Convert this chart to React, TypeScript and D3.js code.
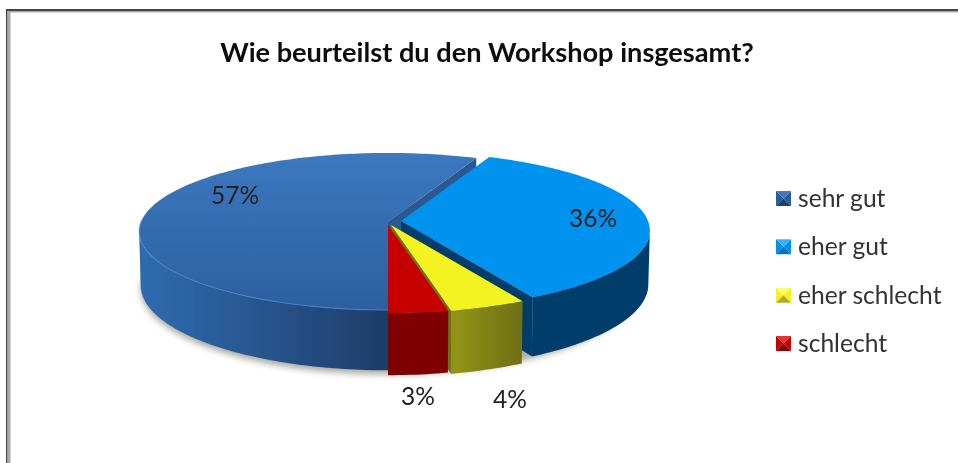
import React from "react";
import * as d3 from "d3";

const categories = ["sehr gut", "eher gut", "eher schlecht", "schlecht"];
const shares = [56.5, 35.6, 4.45, 3.45];
const percentLabels = ["57%", "36%", "4%", "3%"];
const title = "Wie beurteilst du den Workshop insgesamt?";

const W = 958, H = 463;
const FONT = "Lato, 'Open Sans', sans-serif";
const cx = 388, cy = 222, rx = 247, ry = 77.4, k = 0.121, depth = 53;
const offsets = [[0, 0], [13, -1], [3, 3], [0, 3]];
const depthScale = [1, 1, 1.05, 1.03];
const labelPos = [[235, 204], [593, 227], [510, 408], [418, 405]];
const topFill = ["url(#top0)", "#0092ef", "#f3f322", "#c60000"];
const sideFill = ["url(#side0)", "#003e6b", "url(#side2)", "#7e0000"];
const wallFill = ["#2b5890", "#003e6b", "#6f7012", "#7e0000"];
const legendColors = [
  ["#4478b8", "#2c5d9c", "#2c5d9c", "#1b3f70"],
  ["#35b4f5", "#0090ea", "#0090ea", "#0c70b8"],
  ["#fbfb70", "#f3f322", "#f3f322", "#b0b018"],
  ["#e83030", "#c60000", "#c60000", "#880000"],
];

// perspective projection of a point on the disc: angle a (0 = back, clockwise), radial r, height z
function project(a: number, r: number, z: number, off: number[]): [number, number] {
  const X = Math.sin(a) * r;
  const Y = -Math.cos(a) * r;
  const s = 1 / (1 - k * Y);
  const shrink = 1 - 0.006 * z;
  return [cx + off[0] + rx * X * s * shrink, cy + off[1] + ry * Y * s + depth * z * s];
}

const line = d3.line<[number, number]>();
const pieGen = d3.pie<number>().sort(null).startAngle(Math.PI).endAngle(3 * Math.PI);
const arcs = pieGen(shares);

function angles(a0: number, a1: number) {
  const n = Math.max(2, Math.ceil(Math.abs(a1 - a0) / 0.02));
  return d3.range(n + 1).map((i) => a0 + ((a1 - a0) * i) / n);
}
function arcPts(a0: number, a1: number, z: number, off: number[]) {
  return angles(a0, a1).map((a) => project(a, 1, z, off));
}

export default function App() {
  const legendY = d3.scalePoint<string>().domain(categories).range([199, 344]);
  const shadowPts = arcPts(0, 2 * Math.PI, 1.02, [0, 3]);
  return (
    <svg width={W} height={H} viewBox={`0 0 ${W} ${H}`} style={{ position: "absolute", left: 0, top: 0, background: "#fff" }}>
      <defs>
        <linearGradient id="top0" gradientUnits="userSpaceOnUse" x1="0" y1="153" x2="0" y2="312">
          <stop offset="0" stopColor="#3c78c0" />
          <stop offset="1" stopColor="#2d5f9f" />
        </linearGradient>
        <linearGradient id="side0" gradientUnits="userSpaceOnUse" x1="140" y1="0" x2="388" y2="0">
          <stop offset="0" stopColor="#2f6bb0" />
          <stop offset="0.5" stopColor="#28558e" />
          <stop offset="1" stopColor="#1e3c68" />
        </linearGradient>
        <linearGradient id="side2" gradientUnits="userSpaceOnUse" x1="455" y1="0" x2="523" y2="0">
          <stop offset="0" stopColor="#929318" />
          <stop offset="1" stopColor="#6e6f12" />
        </linearGradient>
        <filter id="blur" x="-10%" y="-10%" width="120%" height="120%"><feGaussianBlur stdDeviation="3" /></filter>
        <filter id="soft" x="-5%" y="-20%" width="110%" height="140%"><feGaussianBlur stdDeviation="0.45" /></filter>
        <filter id="softer" x="-5%" y="-5%" width="110%" height="110%"><feGaussianBlur stdDeviation="0.5" /></filter>
      </defs>

      <path d={line(shadowPts)! + "Z"} fill="#8a8a80" filter="url(#blur)" opacity={0.7} />

      <g filter="url(#softer)">
      {arcs.map((d, i) => {
        const off = offsets[i];
        const z = depthScale[i];
        const a0 = d.startAngle, a1 = d.endAngle;
        const top = arcPts(a0, a1, 0, off);
        const bottom = arcPts(a0, a1, z, off);
        const apexT = project(0, 0, 0, off);
        const apexB = project(0, 0, z, off);
        const wall = [apexT, top[top.length - 1], bottom[bottom.length - 1], apexB] as [number, number][];
        // only the front part of the rim, up to the silhouette, shows as an outer side
        const front = angles(a0, a1).filter((a) => -Math.cos(a) > k);
        const side = [
          ...front.map((a) => project(a, 1, 0, off)),
          ...front.slice().reverse().map((a) => project(a, 1, z, off)),
        ];
        return (
          <g key={categories[i]}>
            <path d={line(side)! + "Z"} fill={sideFill[i]} />
            <path d={line(wall)! + "Z"} fill={wallFill[i]} />
            <path d={line([apexT, ...top])! + "Z"} fill={topFill[i]} />
            {i === 0 && (
              <path d={line(arcPts(a0, a0 + 1.6, 0, off))!} fill="none" stroke="#4f8ed6" strokeWidth={1.2} opacity={0.6} />
            )}
          </g>
        );
      })}
      </g>

      {percentLabels.map((t, i) => (
        <text key={t} x={labelPos[i][0]} y={labelPos[i][1]} textAnchor="middle" fontFamily={FONT} fontSize={24.5} fill="#222" filter="url(#soft)">{t}</text>
      ))}

      <text x={487} y={62} textAnchor="middle" fontFamily={FONT} fontWeight={700} fontSize={27.2} fill="#111" filter="url(#soft)">{title}</text>

      {categories.map((c, i) => {
        const y = legendY(c)!;
        const l = 776, r = 791, t = y - 8, b = y + 7;
        const mx = (l + r) / 2, my = (t + b) / 2;
        const tri = [
          [[l, t], [r, t], [mx, my]],
          [[l, t], [l, b], [mx, my]],
          [[r, t], [r, b], [mx, my]],
          [[l, b], [r, b], [mx, my]],
        ] as [number, number][][];
        return (
          <g key={c}>
            <g filter="url(#softer)">
              {tri.map((p, j) => (
                <path key={j} d={line(p)! + "Z"} fill={legendColors[i][j]} />
              ))}
            </g>
            <text x={798} y={y + 8} fontFamily={FONT} fontSize={24.6} fill="#333" filter="url(#soft)">{c}</text>
          </g>
        );
      })}

      <rect x={6} y={9} width={1.5} height={H - 9} fill="#444" />
      <rect x={6} y={9} width={W - 6} height={2} fill="#444" />
      <rect x={8} y={11} width={W - 8} height={1.5} fill="#aaa" />
      <rect x={8} y={11} width={2.5} height={H - 11} fill="#aaa" />
    </svg>
  );
}
